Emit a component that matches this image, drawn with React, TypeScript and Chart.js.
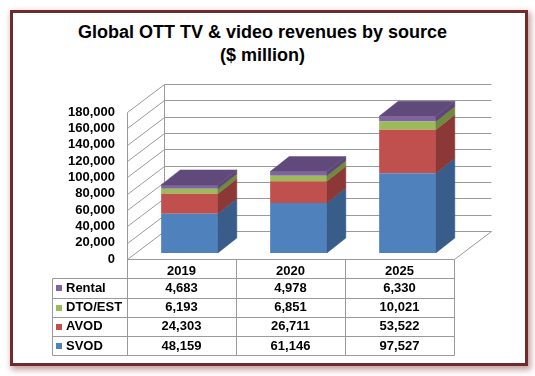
import { useEffect, useRef } from 'react';
import { Chart, registerables } from 'chart.js';

Chart.register(...registerables);

// ---- data ----
const categories = ['2019', '2020', '2025'];
const seriesNames = ['SVOD', 'AVOD', 'DTO/EST', 'Rental'];
const svod = [48159, 61146, 97527];
const avod = [24303, 26711, 53522];
const dtoEst = [6193, 6851, 10021];
const rental = [4683, 4978, 6330];
const yMax = 180000;
const yStep = 20000;
const titleLines = ['Global OTT TV & video revenues by source', '($ million)'];

// ---- style ----
const FONT = '"Liberation Sans", Arial, sans-serif';
const FRONT = ['#4F81BD', '#C0504D', '#9BBB59', '#8064A2'];
const SIDE = ['#385D8A', '#8C3836', '#71893F', '#5C4776'];
const TOP = '#604A7B';
const GRID = '#9a9a9a';
const WALL = { dx: 37, dy: -28 };
const BAR_OFF = { dx: 8, dy: -6 };
const BAR_DEPTH = { dx: 19, dy: -15 };
const ROW_TOP = 278.3;
const ROW_H = 19.2;
const LABEL_LEFT = 52;

const fmt = (v: number) => Number(v).toLocaleString('en-US');

const threeD = {
  id: 'threeD',
  beforeDatasetsDraw(chart: any) {
    const { ctx, chartArea, scales } = chart;
    const { left, right, top, bottom } = chartArea;
    const x = scales.x;
    const y = scales.y;
    const r = (v: number) => Math.round(v) + 0.5;
    ctx.save();
    ctx.strokeStyle = GRID;
    ctx.lineWidth = 1;
    ctx.beginPath();
    for (const t of y.ticks) {
      const yf = y.getPixelForValue(t.value);
      ctx.moveTo(r(left), r(yf));
      ctx.lineTo(r(left) + WALL.dx, r(yf) + WALL.dy);
      ctx.moveTo(r(left) + WALL.dx, r(yf) + WALL.dy);
      ctx.lineTo(r(right) + WALL.dx, r(yf) + WALL.dy);
    }
    ctx.moveTo(r(left), r(top));
    ctx.lineTo(r(left), r(bottom));
    ctx.moveTo(r(left) + WALL.dx, r(top) + WALL.dy);
    ctx.lineTo(r(left) + WALL.dx, r(bottom) + WALL.dy);
    ctx.moveTo(r(right), r(bottom));
    ctx.lineTo(r(right) + WALL.dx, r(bottom) + WALL.dy);
    ctx.stroke();

    // data table
    const n = categories.length;
    const colW = (right - left) / n;
    const tableBottom = ROW_TOP + ROW_H * seriesNames.length;
    ctx.beginPath();
    ctx.moveTo(r(left), r(bottom));
    ctx.lineTo(r(right), r(bottom));
    for (let i = 0; i <= n; i++) {
      const xx = r(left + i * colW);
      ctx.moveTo(xx, r(bottom));
      ctx.lineTo(xx, r(tableBottom));
    }
    ctx.moveTo(r(LABEL_LEFT), r(ROW_TOP));
    ctx.lineTo(r(LABEL_LEFT), r(tableBottom));
    for (let k = 0; k <= seriesNames.length; k++) {
      const yy = r(ROW_TOP + k * ROW_H);
      ctx.moveTo(r(LABEL_LEFT), yy);
      ctx.lineTo(r(right), yy);
    }
    ctx.stroke();

    const ds = chart.data.datasets;
    ctx.font = `bold 13px ${FONT}`;
    ctx.textBaseline = 'middle';
    for (let k = 0; k < ds.length; k++) {
      const di = ds.length - 1 - k;
      const cy = ROW_TOP + k * ROW_H + ROW_H / 2 + 0.5;
      ctx.fillStyle = FRONT[di];
      ctx.fillRect(56, Math.round(cy) - 3, 6, 6);
      ctx.fillStyle = '#000';
      ctx.textAlign = 'left';
      ctx.fillText(ds[di].label, 66, cy);
      ctx.textAlign = 'center';
      ds[di].data.forEach((v: number, i: number) => {
        ctx.fillText(fmt(v), x.getPixelForValue(i), cy);
      });
    }
    ctx.restore();

    ctx.save();
    ctx.translate(BAR_OFF.dx, BAR_OFF.dy);
  },
  afterDatasetsDraw(chart: any) {
    const { ctx } = chart;
    const ds = chart.data.datasets;
    ds.forEach((_d: any, di: number) => {
      const meta = chart.getDatasetMeta(di);
      meta.data.forEach((el: any) => {
        const p = el.getProps(['x', 'y', 'base', 'width'], true);
        const xl = p.x - p.width / 2;
        const xr = p.x + p.width / 2;
        ctx.fillStyle = SIDE[di];
        ctx.strokeStyle = SIDE[di];
        ctx.lineWidth = 0.5;
        ctx.beginPath();
        ctx.moveTo(xr, p.y);
        ctx.lineTo(xr + BAR_DEPTH.dx, p.y + BAR_DEPTH.dy);
        ctx.lineTo(xr + BAR_DEPTH.dx, p.base + BAR_DEPTH.dy);
        ctx.lineTo(xr, p.base);
        ctx.closePath();
        ctx.fill();
        ctx.stroke();
        if (di === ds.length - 1) {
          ctx.fillStyle = TOP;
          ctx.strokeStyle = TOP;
          ctx.beginPath();
          ctx.moveTo(xl, p.y);
          ctx.lineTo(xr, p.y);
          ctx.lineTo(xr + BAR_DEPTH.dx, p.y + BAR_DEPTH.dy);
          ctx.lineTo(xl + BAR_DEPTH.dx, p.y + BAR_DEPTH.dy);
          ctx.closePath();
          ctx.fill();
          ctx.stroke();
        }
      });
    });
    ctx.restore();
  },
};

export default function App() {
  const ref = useRef<HTMLCanvasElement | null>(null);
  useEffect(() => {
    if (!ref.current) return;
    const values = [svod, avod, dtoEst, rental];
    const chart = new Chart(ref.current, {
      type: 'bar',
      data: {
        labels: categories,
        datasets: seriesNames.map((name, i) => ({
          label: name,
          data: values[i],
          backgroundColor: FRONT[i],
          borderWidth: 0,
          categoryPercentage: 1,
          barPercentage: 0.52,
          clip: false as any,
        })),
      },
      options: {
        responsive: false,
        maintainAspectRatio: false,
        devicePixelRatio: 1,
        animation: false,
        events: [],
        layout: { padding: { left: 0, right: 81, top: 112, bottom: 0 } },
        plugins: {
          legend: { display: false },
          tooltip: { enabled: false },
          title: { display: false },
        },
        scales: {
          x: {
            stacked: true,
            grid: { display: false, drawTicks: false },
            border: { display: false },
            ticks: { color: '#000', font: { family: FONT, size: 13, weight: 'bold' }, padding: 5 },
            afterFit: (s: any) => { s.height = 117; },
          },
          y: {
            stacked: true,
            min: 0,
            max: yMax,
            grid: { display: false, drawTicks: false },
            border: { display: false },
            ticks: {
              stepSize: yStep,
              autoSkip: false,
              color: '#000',
              font: { family: FONT, size: 13, weight: 'bold' },
              padding: 12,
              callback: (v: any) => fmt(v),
            },
            afterFit: (s: any) => { s.width = 127; },
          },
        },
      },
      plugins: [threeD],
    });
    return () => chart.destroy();
  }, []);

  return (
    <div style={{ position: 'absolute', left: 0, top: 0, width: 535, height: 376, background: '#fff' }}>
      <div
        style={{
          position: 'absolute',
          left: 10,
          top: 10,
          width: 518,
          height: 356,
          boxSizing: 'border-box',
          border: '3px solid #702c2c',
          boxShadow: '2px 3px 6px 1px rgba(130,50,50,0.45)',
          background: '#fff',
        }}
      />
      <div
        style={{
          position: 'absolute',
          left: 0,
          top: 21,
          width: 525,
          textAlign: 'center',
          fontFamily: FONT,
          fontWeight: 'bold',
          fontSize: 18,
          lineHeight: '23px',
          color: '#000',
        }}
      >
        {titleLines.map((t) => (
          <div key={t}>{t}</div>
        ))}
      </div>
      <canvas ref={ref} width={535} height={376} style={{ position: 'absolute', left: 0, top: 0, display: 'block' }} />
    </div>
  );
}
